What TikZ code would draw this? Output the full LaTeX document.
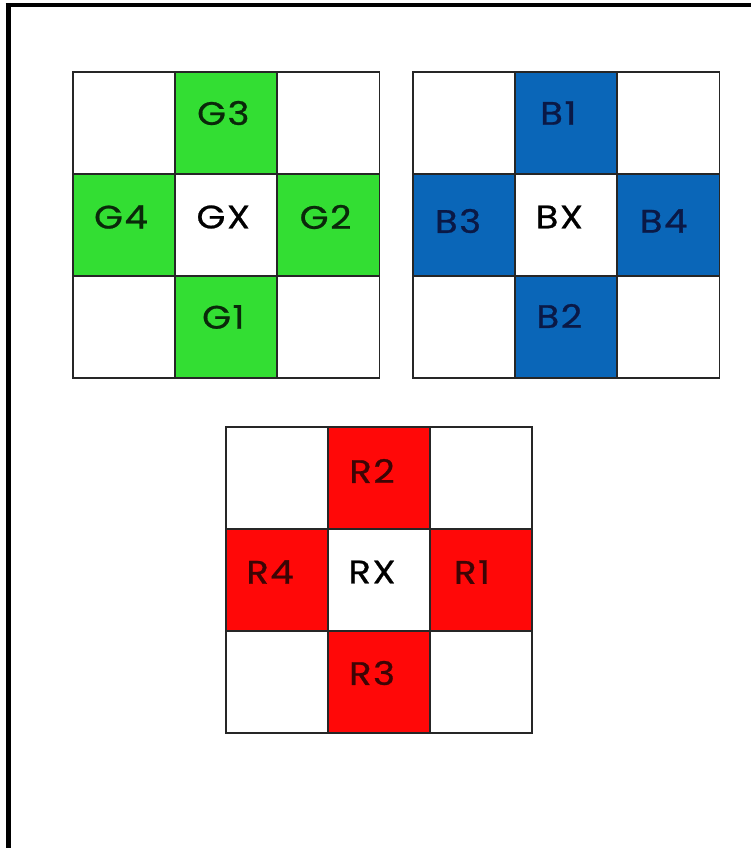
\documentclass[tikz,border=0pt]{standalone}
\usepackage{fontspec}
\setmainfont{Poppins}
\newfontfamily\labfont[FakeStretch=1.14,LetterSpace=5,FakeBold=0.8]{Poppins}
\begin{document}
\begin{tikzpicture}[x=1pt,y=-1pt,
  cell/.style={draw=black!85,line width=1.7pt,minimum width=102pt,minimum height=102pt,inner sep=0pt,outer sep=0pt,anchor=north west},
  lab/.style={font=\labfont\fontsize{32.5}{32.5}\selectfont,inner sep=0pt},
  gcol/.style={fill=gfill},bcol/.style={fill=bfill},rcol/.style={fill=rfill}]
\definecolor{gfill}{RGB}{51,222,51}
\definecolor{bfill}{RGB}{10,102,184}
\definecolor{rfill}{RGB}{255,8,8}
\definecolor{gtext}{RGB}{10,40,10}
\definecolor{btext}{RGB}{10,25,70}
\definecolor{rtext}{RGB}{60,5,5}
\useasboundingbox (0,0) rectangle (751,848);
\fill[white] (0,0) rectangle (751,848);
% frame
\coordinate (fbl) at (8,848);
\coordinate (ftr) at (751,5.5);
\draw[line width=5pt] (fbl) -- (8,3.5);
\draw[line width=4pt] (5.5,5.5) -- (ftr);
% green grid
\foreach \r in {0,1,2}{\foreach \c in {0,1,2}{
  \node[cell] (g\r\c) at (73+\c*102.3,72+\r*102) {};}}
\node[cell,gcol] at (g01.north west) {};
\node[cell,gcol] at (g10.north west) {};
\node[cell,gcol] at (g12.north west) {};
\node[cell,gcol] at (g21.north west) {};
\node[cell] at (g11.north west) {};
\node[lab,text=gtext] (tg3) at ([xshift=-3pt,yshift=10pt]g01.center) {G3};
\node[lab,text=gtext] (tg4) at ([xshift=-3pt,yshift=8pt]g10.center) {G4};
\node[lab,text=black] (tgx) at ([xshift=-3pt,yshift=8pt]g11.center) {GX};
\node[lab,text=gtext] (tg2) at ([xshift=-3pt,yshift=8pt]g12.center) {G2};
\node[lab,text=gtext] (tg1) at ([xshift=-3pt,yshift=10pt]g21.center) {G1};
% blue grid
\foreach \r in {0,1,2}{\foreach \c in {0,1,2}{
  \node[cell] (b\r\c) at (413+\c*102.3,72+\r*102) {};}}
\node[cell,bcol] at (b01.north west) {};
\node[cell,bcol] at (b10.north west) {};
\node[cell,bcol] at (b12.north west) {};
\node[cell,bcol] at (b21.north west) {};
\node[cell] at (b11.north west) {};
\node[lab,text=btext] (tb1) at ([xshift=-8pt,yshift=10pt]b01.center) {B1};
\node[lab,text=btext] (tb3) at ([xshift=-6pt,yshift=4pt]b10.center) {B3};
\node[lab,text=black] (tbx) at ([xshift=-7pt,yshift=8pt]b11.center) {BX};
\node[lab,text=btext] (tb4) at ([xshift=-5pt,yshift=4pt]b12.center) {B4};
\node[lab,text=btext] (tb2) at ([xshift=-7pt,yshift=11pt]b21.center) {B2};
% red grid
\foreach \r in {0,1,2}{\foreach \c in {0,1,2}{
  \node[cell] (r\r\c) at (226+\c*102,427+\r*102) {};}}
\node[cell,rcol] at (r01.north west) {};
\node[cell,rcol] at (r10.north west) {};
\node[cell,rcol] at (r12.north west) {};
\node[cell,rcol] at (r21.north west) {};
\node[cell] at (r11.north west) {};
\node[lab,text=rtext] (tr2) at ([xshift=-7pt,yshift=7pt]r01.center) {R2};
\node[lab,text=rtext] (tr4) at ([xshift=-7pt,yshift=8pt]r10.center) {R4};
\node[lab,text=black] (trx) at ([xshift=-7pt,yshift=8pt]r11.center) {RX};
\node[lab,text=rtext] (tr1) at ([xshift=-9pt,yshift=8pt]r12.center) {R1};
\node[lab,text=rtext] (tr3) at ([xshift=-7pt,yshift=9pt]r21.center) {R3};
\end{tikzpicture}
\end{document}
